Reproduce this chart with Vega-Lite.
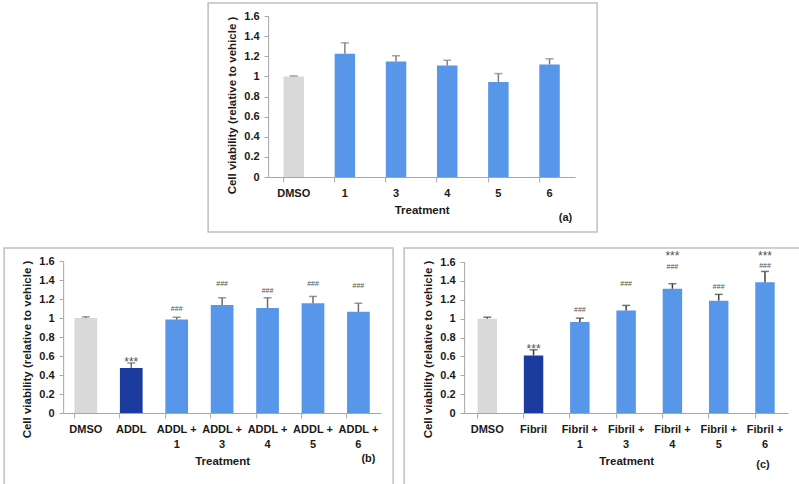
{
  "$schema": "https://vega.github.io/schema/vega-lite/v6.json",
  "padding": {"left": 3, "top": 2, "right": 0, "bottom": 0},
  "background": "white",
  "spacing": 14,
  "center": true,
  "config": {
    "view": {"stroke": "#c0c0c0", "strokeWidth": 1.5},
    "axis": {
      "labelFont": "Liberation Sans", "labelFontWeight": "bold", "labelFontSize": 11, "labelColor": "#1a1a1a",
      "titleFont": "Liberation Sans", "titleFontWeight": "bold", "titleFontSize": 11.5, "titleColor": "#1a1a1a",
      "domainColor": "#a6a6a6", "tickColor": "#a6a6a6", "grid": false, "labelOverlap": false
    },
    "text": {"font": "Liberation Sans"}
  },
  "vconcat": [
    {
      "width": 389, "height": 229,
      "resolve": {"axis": {"y": "independent"}},
      "data": {"values": [
        {"treatment": "DMSO", "value": 1.0, "upper": 1.005, "group": "ctrl"},
        {"treatment": "1", "value": 1.225, "upper": 1.333, "group": "treat"},
        {"treatment": "3", "value": 1.147, "upper": 1.205, "group": "treat"},
        {"treatment": "4", "value": 1.108, "upper": 1.16, "group": "treat"},
        {"treatment": "5", "value": 0.945, "upper": 1.028, "group": "treat"},
        {"treatment": "6", "value": 1.118, "upper": 1.175, "group": "treat"}
      ]},
      "encoding": {
        "x": {"field": "treatment", "type": "nominal",
          "scale": {"domain": ["DMSO", "1", "3", "4", "5", "6"], "range": [60, 367], "paddingInner": 0.6, "paddingOuter": 0.3},
          "axis": {"title": "Treatment", "labelAngle": 0, "offset": -55, "bandPosition": 0, "tickSize": 5, "labelPadding": 5, "titlePadding": 6}}
      },
      "layer": [
        {
          "mark": {"type": "bar"},
          "encoding": {
            "y": {"field": "value", "type": "quantitative",
              "scale": {"domain": [0, 1.6], "range": [174, 13], "nice": false},
              "axis": {"title": "Cell viability (relative to vehicle )", "values": [0, 0.2, 0.4, 0.6, 0.8, 1, 1.2, 1.4, 1.6], "labelExpr": "format(datum.value, '.1~f')", "offset": -60, "tickSize": 4, "labelPadding": 5, "titlePadding": 6, "titleY": 102, "labelOverlap": false}},
            "color": {"field": "group", "type": "nominal", "scale": {"domain": ["ctrl", "insult", "treat"], "range": ["#d9d9d9", "#1b3c9e", "#5796e8"]}, "legend": null}
          }
        },
        {
          "mark": {"type": "rule", "color": "#808080", "strokeWidth": 1.5},
          "encoding": {"y": {"field": "value", "type": "quantitative", "axis": null}, "y2": {"field": "upper"}}
        },
        {
          "mark": {"type": "tick", "color": "#808080", "size": 8, "thickness": 1.5},
          "encoding": {"y": {"field": "upper", "type": "quantitative", "axis": null}}
        },
        {
          "data": {"values": [{"treatment": "6", "label": "(a)", "pos": -0.41}]},
          "mark": {"type": "text", "fontSize": 11, "fontWeight": "bold", "color": "#1a1a1a", "dx": 16, "baseline": "middle"},
          "encoding": {"y": {"field": "pos", "type": "quantitative", "axis": null}, "text": {"field": "label"}}
        }
      ]
    },
    {
      "hconcat": [
        {
          "width": 389, "height": 237,
          "resolve": {"axis": {"y": "independent"}},
          "data": {"values": [
            {"treatment": "DMSO", "value": 1.0, "upper": 1.012, "group": "ctrl"},
            {"treatment": "ADDL", "value": 0.475, "upper": 0.527, "group": "insult"},
            {"treatment": "ADDL + 1", "value": 0.983, "upper": 1.008, "group": "treat"},
            {"treatment": "ADDL + 3", "value": 1.136, "upper": 1.213, "group": "treat"},
            {"treatment": "ADDL + 4", "value": 1.105, "upper": 1.213, "group": "treat"},
            {"treatment": "ADDL + 5", "value": 1.155, "upper": 1.227, "group": "treat"},
            {"treatment": "ADDL + 6", "value": 1.065, "upper": 1.155, "group": "treat"}
          ]},
          "encoding": {
            "x": {"field": "treatment", "type": "nominal",
              "scale": {"domain": ["DMSO", "ADDL", "ADDL + 1", "ADDL + 3", "ADDL + 4", "ADDL + 5", "ADDL + 6"], "range": [59, 377], "paddingInner": 0.5, "paddingOuter": 0.25},
              "axis": {"title": "Treatment", "labelAngle": 0, "offset": -72, "bandPosition": 0, "tickSize": 5, "labelPadding": 5, "titlePadding": 6, "labelLineHeight": 15,
                "labelExpr": "indexof(datum.value, ' + ') > 0 ? [substring(datum.value, 0, indexof(datum.value, ' + ') + 2), substring(datum.value, indexof(datum.value, ' + ') + 3)] : datum.value"}}
          },
          "layer": [
            {
              "mark": {"type": "bar"},
              "encoding": {
                "y": {"field": "value", "type": "quantitative",
                  "scale": {"domain": [0, 1.6], "range": [165, 13], "nice": false},
                  "axis": {"title": "Cell viability (relative to vehicle )", "values": [0, 0.2, 0.4, 0.6, 0.8, 1, 1.2, 1.4, 1.6], "labelExpr": "format(datum.value, '.1~f')", "offset": -59, "tickSize": 4, "labelPadding": 5, "titlePadding": 6, "titleY": 101, "labelOverlap": false}},
                "color": {"field": "group", "type": "nominal", "scale": {"domain": ["ctrl", "insult", "treat"], "range": ["#c4c4c4", "#1b3c9e", "#5796e8"]}, "legend": null}
              }
            },
            {
              "mark": {"type": "rule", "color": "#6e6e6e", "strokeWidth": 1.5},
              "encoding": {"y": {"field": "value", "type": "quantitative", "axis": null}, "y2": {"field": "upper"}}
            },
            {
              "mark": {"type": "tick", "color": "#6e6e6e", "size": 8, "thickness": 1.5},
              "encoding": {"y": {"field": "upper", "type": "quantitative", "axis": null}}
            },
            {
              "data": {"values": [
                {"treatment": "ADDL", "label": "***", "pos": 0.54},
                {"treatment": "ADDL + 1", "label": "###", "pos": 1.09},
                {"treatment": "ADDL + 3", "label": "###", "pos": 1.354},
                {"treatment": "ADDL + 4", "label": "###", "pos": 1.283},
                {"treatment": "ADDL + 5", "label": "###", "pos": 1.354},
                {"treatment": "ADDL + 6", "label": "###", "pos": 1.336}
              ]},
              "mark": {"type": "text", "color": "#505050", "baseline": "middle"},
              "encoding": {"y": {"field": "pos", "type": "quantitative", "axis": null}, "text": {"field": "label"},
                "size": {"field": "label", "type": "nominal", "scale": {"domain": ["***", "###"], "range": [12, 7]}, "legend": null}}
            },
            {
              "data": {"values": [{"treatment": "ADDL + 6", "label": "(b)", "pos": -0.484}]},
              "mark": {"type": "text", "fontSize": 11, "fontWeight": "bold", "color": "#1a1a1a", "dx": 10, "baseline": "middle"},
              "encoding": {"y": {"field": "pos", "type": "quantitative", "axis": null}, "text": {"field": "label"}}
            }
          ]
        },
        {
          "width": 397, "height": 238,
          "resolve": {"axis": {"y": "independent"}},
          "data": {"values": [
            {"treatment": "DMSO", "value": 1.0, "upper": 1.015, "group": "ctrl"},
            {"treatment": "Fibril", "value": 0.609, "upper": 0.669, "group": "insult"},
            {"treatment": "Fibril + 1", "value": 0.965, "upper": 1.005, "group": "treat"},
            {"treatment": "Fibril + 3", "value": 1.087, "upper": 1.14, "group": "treat"},
            {"treatment": "Fibril + 4", "value": 1.317, "upper": 1.37, "group": "treat"},
            {"treatment": "Fibril + 5", "value": 1.19, "upper": 1.257, "group": "treat"},
            {"treatment": "Fibril + 6", "value": 1.385, "upper": 1.5, "group": "treat"}
          ]},
          "encoding": {
            "x": {"field": "treatment", "type": "nominal",
              "scale": {"domain": ["DMSO", "Fibril", "Fibril + 1", "Fibril + 3", "Fibril + 4", "Fibril + 5", "Fibril + 6"], "range": [60, 384], "paddingInner": 0.58, "paddingOuter": 0.29},
              "axis": {"title": "Treatment", "labelAngle": 0, "offset": -73, "bandPosition": 0, "tickSize": 5, "labelPadding": 5, "titlePadding": 6, "labelLineHeight": 15,
                "labelExpr": "indexof(datum.value, ' + ') > 0 ? [substring(datum.value, 0, indexof(datum.value, ' + ') + 2), substring(datum.value, indexof(datum.value, ' + ') + 3)] : datum.value"}}
          },
          "layer": [
            {
              "mark": {"type": "bar"},
              "encoding": {
                "y": {"field": "value", "type": "quantitative",
                  "scale": {"domain": [0, 1.6], "range": [165, 14], "nice": false},
                  "axis": {"title": "Cell viability (relative to vehicle )", "values": [0, 0.2, 0.4, 0.6, 0.8, 1, 1.2, 1.4, 1.6], "labelExpr": "format(datum.value, '.1~f')", "offset": -60, "tickSize": 4, "labelPadding": 5, "titlePadding": 6, "titleY": 101, "labelOverlap": false}},
                "color": {"field": "group", "type": "nominal", "scale": {"domain": ["ctrl", "insult", "treat"], "range": ["#c4c4c4", "#1b3c9e", "#5796e8"]}, "legend": null}
              }
            },
            {
              "mark": {"type": "rule", "color": "#404040", "strokeWidth": 1.5},
              "encoding": {"y": {"field": "value", "type": "quantitative", "axis": null}, "y2": {"field": "upper"}}
            },
            {
              "mark": {"type": "tick", "color": "#404040", "size": 8, "thickness": 1.5},
              "encoding": {"y": {"field": "upper", "type": "quantitative", "axis": null}}
            },
            {
              "data": {"values": [
                {"treatment": "Fibril", "label": "***", "pos": 0.68},
                {"treatment": "Fibril + 1", "label": "###", "pos": 1.087},
                {"treatment": "Fibril + 3", "label": "###", "pos": 1.363},
                {"treatment": "Fibril + 4", "label": "***", "pos": 1.665},
                {"treatment": "Fibril + 4", "label": "###", "pos": 1.55},
                {"treatment": "Fibril + 5", "label": "###", "pos": 1.335},
                {"treatment": "Fibril + 6", "label": "***", "pos": 1.665},
                {"treatment": "Fibril + 6", "label": "###", "pos": 1.555}
              ]},
              "mark": {"type": "text", "color": "#505050", "baseline": "middle"},
              "encoding": {"y": {"field": "pos", "type": "quantitative", "axis": null}, "text": {"field": "label"},
                "size": {"field": "label", "type": "nominal", "scale": {"domain": ["***", "###"], "range": [11, 7]}, "legend": null}}
            },
            {
              "data": {"values": [{"treatment": "Fibril + 6", "label": "(c)", "pos": -0.55}]},
              "mark": {"type": "text", "fontSize": 11, "fontWeight": "bold", "color": "#1a1a1a", "dx": -2, "baseline": "middle"},
              "encoding": {"y": {"field": "pos", "type": "quantitative", "axis": null}, "text": {"field": "label"}}
            }
          ]
        }
      ],
      "spacing": 9
    }
  ]
}
